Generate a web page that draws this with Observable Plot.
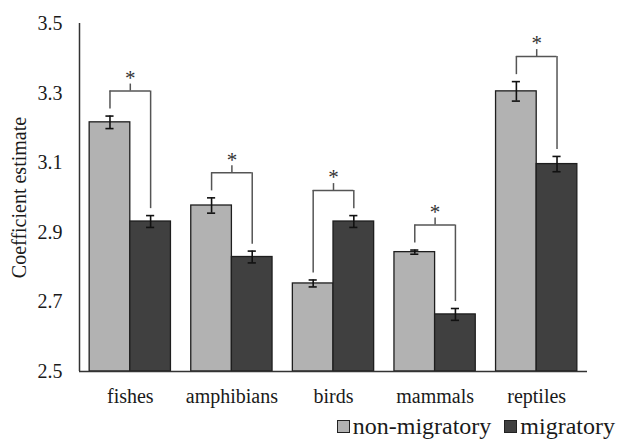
<!DOCTYPE html>
<html>
<head>
<meta charset="utf-8">
<script src="https://cdn.jsdelivr.net/npm/d3@7"></script>
<script src="https://cdn.jsdelivr.net/npm/@observablehq/plot@0.6"></script>
<style>
  html, body { margin: 0; padding: 0; background: #fff; }
  #wrap { width: 619px; height: 440px; position: relative; font-family: 'Liberation Serif', Tinos, 'Times New Roman'; color: #1a1a1a; }
  #legend { position: absolute; left: 0; right: 0; top: 412px; height: 28px; display: flex; justify-content: flex-end; align-items: center; padding-right: 4px; font-size: 24px; }
  .item { display: flex; align-items: center; margin-left: 13px; }
  .sw { width: 13px; height: 13px; box-sizing: border-box; border: 1.2px solid #222; margin-right: 3px; }
</style>
</head>
<body>
<div id="wrap">
  <div id="chart"></div>
  <div id="legend"></div>
</div>
<script>
const categories = ["fishes", "amphibians", "birds", "mammals", "reptiles"];
const series = ["non-migratory", "migratory"];
const nonMigratory = [3.216, 2.977, 2.753, 2.843, 3.305];
const nonMigratoryErr = [0.018, 0.022, 0.010, 0.006, 0.028];
const migratory = [2.931, 2.829, 2.931, 2.664, 3.096];
const migratoryErr = [0.017, 0.017, 0.017, 0.017, 0.022];
const significance = ["*", "*", "*", "*", "*"];
const yTicks = [2.5, 2.7, 2.9, 3.1, 3.3, 3.5];
const colors = ["#b2b2b2", "#404040"];

const bars = categories.flatMap((c, i) => [
  {cat: c, s: series[0], x1: i - 0.4, x2: i, xc: i - 0.2, v: nonMigratory[i], e: nonMigratoryErr[i]},
  {cat: c, s: series[1], x1: i, x2: i + 0.4, xc: i + 0.2, v: migratory[i], e: migratoryErr[i]}
]);

const brackets = categories.map((c, i) => {
  const a = nonMigratory[i] + nonMigratoryErr[i];
  const b = migratory[i] + migratoryErr[i];
  const top = Math.max(a, b) + 0.072;
  return {i, top, xa: i - 0.2, xb: i + 0.2, ya: a + 0.02, yb: b + 0.02, label: significance[i]};
});

const bracketColor = "#555";
const serif = "'Liberation Serif', Tinos, 'Times New Roman'";

const chart = Plot.plot({
  width: 619,
  height: 410,
  marginTop: 23,
  marginBottom: 39,
  marginLeft: 79,
  marginRight: 32,
  style: {fontFamily: serif, fontSize: "20px", color: "#1a1a1a", background: "#fff"},
  x: {domain: [-0.5, 4.5], axis: null},
  y: {domain: [2.5, 3.5], axis: null},
  color: {domain: series, range: colors},
  marks: [
    Plot.rect(bars, {x1: "x1", x2: "x2", y1: () => 2.5, y2: "v", fill: "s", stroke: "#1e1e1e", strokeWidth: 1.3}),
    Plot.ruleX(bars, {x: "xc", y1: d => d.v - d.e, y2: d => d.v + d.e, stroke: "#111", strokeWidth: 1.6}),
    Plot.ruleY(bars, {y: d => d.v - d.e, x1: d => d.xc - 0.04, x2: d => d.xc + 0.04, stroke: "#111", strokeWidth: 1.6}),
    Plot.ruleY(bars, {y: d => d.v + d.e, x1: d => d.xc - 0.04, x2: d => d.xc + 0.04, stroke: "#111", strokeWidth: 1.6}),
    Plot.ruleX(brackets, {x: "xa", y1: "ya", y2: "top", stroke: bracketColor, strokeWidth: 1.5}),
    Plot.ruleX(brackets, {x: "xb", y1: "yb", y2: "top", stroke: bracketColor, strokeWidth: 1.5}),
    Plot.ruleY(brackets, {y: "top", x1: "xa", x2: "xb", stroke: bracketColor, strokeWidth: 1.5}),
    Plot.ruleX(brackets, {x: "i", y1: "top", y2: d => d.top + 0.02, stroke: bracketColor, strokeWidth: 1.5}),
    Plot.text(brackets, {x: "i", y: "top", text: "label", dy: -13, fontSize: 21, fill: "#333", lineAnchor: "middle", fontFamily: serif}),
    Plot.ruleX([-0.5], {y1: () => 2.5, y2: () => 3.5, stroke: "#333", strokeWidth: 1.5}),
    Plot.ruleY([2.5], {stroke: "#333", strokeWidth: 1.5}),
    Plot.axisX(d3.range(categories.length), {tickSize: 0, tickPadding: 17, tickFormat: i => categories[i], label: null, fontSize: 20, fontFamily: serif}),
    Plot.axisY(yTicks, {tickSize: 0, tickPadding: 17, tickFormat: d3.format(".1f"), label: "Coefficient estimate", labelAnchor: "center", labelArrow: "none", labelOffset: 68, fontSize: 20, fontFamily: serif})
  ]
});
document.getElementById("chart").appendChild(chart);

const legend = document.getElementById("legend");
series.forEach((s, k) => {
  const item = document.createElement("div");
  item.className = "item";
  const sw = document.createElement("span");
  sw.className = "sw";
  sw.style.background = colors[k];
  const t = document.createElement("span");
  t.textContent = s;
  item.appendChild(sw);
  item.appendChild(t);
  legend.appendChild(item);
});
</script>
</body>
</html>
